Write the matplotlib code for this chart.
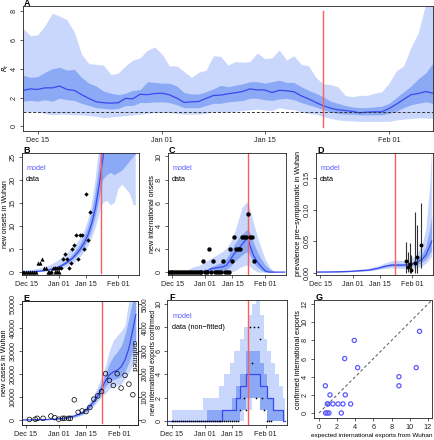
import numpy as np
import matplotlib
matplotlib.use("Agg")
import matplotlib.pyplot as plt

plt.rcParams['font.family'] = ['Liberation Sans', 'DejaVu Sans']

# days are counted from Dec 15
date_ticks = [0, 17, 31, 48]
date_labels = ['Dec 15', 'Jan 01', 'Jan 15', 'Feb 01']
lockdown_day = 39

# ---- panel A: R_t
A_days = np.arange(-2, 55)
A_med = [2.49, 2.6, 2.56, 2.67, 2.67, 2.8, 2.56, 2.5, 2.2, 1.94, 1.7, 1.64, 1.61, 1.64, 1.94, 1.91, 2.23, 2.2, 2.28,
         2.3, 2.19, 1.96, 1.66, 1.7, 1.73, 1.94, 2.14, 2.17, 2.26, 2.33, 2.42, 2.6, 2.53, 2.53, 2.35, 2.5, 2.47, 2.4,
         2.12, 1.91, 1.66, 1.43, 1.27, 1.15, 1.1, 1.04, 0.94, 0.99, 1.01, 1.01, 1.24, 1.54, 1.87, 2.2, 2.28, 2.42, 2.3]
A_dhi = [3.55, 3.4, 3.45, 3.75, 4.0, 4.1, 3.9, 3.95, 3.4, 3.0, 2.8, 2.45, 2.3, 2.2, 2.3, 2.5, 2.55, 3.1, 3.05, 3.0,
         3.0, 2.8, 2.35, 2.25, 2.25, 2.4, 2.6, 2.85, 2.75, 2.85, 2.95, 3.1, 3.1, 3.0, 3.1, 3.2, 3.05, 3.05, 2.75, 2.5,
         2.3, 2.05, 1.75, 1.6, 1.45, 1.35, 1.3, 1.3, 1.35, 1.4, 1.6, 2.0, 2.4, 2.8, 3.3, 3.7, 4.4]
A_dlo = [1.75, 1.8, 1.75, 1.85, 1.75, 1.95, 1.85, 1.8, 1.6, 1.45, 1.3, 1.25, 1.2, 1.25, 1.45, 1.45, 1.65, 1.65, 1.7,
         1.7, 1.65, 1.5, 1.3, 1.3, 1.3, 1.45, 1.6, 1.6, 1.7, 1.75, 1.8, 1.95, 1.95, 1.85, 1.8, 1.9, 1.95, 1.85, 1.65,
         1.5, 1.35, 1.15, 1.0, 0.9, 0.85, 0.85, 0.8, 0.8, 0.8, 0.8, 0.9, 1.05, 1.3, 1.5, 1.6, 1.7, 1.6]
A_lhi = [6.8, 6.3, 6.35, 7.0, 7.85, 7.65, 7.4, 6.55, 5.0, 4.35, 4.3, 4.25, 3.6, 3.7, 4.2, 4.6, 4.75, 5.3, 5.5, 5.0,
         4.2, 4.2, 3.8, 3.4, 3.75, 3.9, 4.9, 4.85, 4.25, 4.5, 4.45, 4.5, 5.1, 4.7, 4.75, 5.3, 4.6, 4.9, 4.3, 4.2,
         3.4, 2.95, 2.9, 2.75, 2.15, 2.05, 2.15, 2.15, 2.3, 2.4, 3.0, 3.85, 4.2, 5.5, 6.5, 8.5, 9.0]
A_llo = [1.0, 1.05, 1.0, 0.9, 0.8, 0.85, 0.85, 0.8, 0.8, 0.75, 0.7, 0.6, 0.65, 0.7, 0.75, 0.8, 0.85, 0.9, 0.95,
         0.95, 0.95, 0.9, 0.85, 0.85, 0.85, 0.9, 1.0, 1.0, 1.0, 1.05, 1.1, 1.15, 1.2, 1.15, 1.1, 1.3, 1.2, 1.15, 1.0,
         0.9, 0.85, 0.7, 0.55, 0.45, 0.4, 0.38, 0.35, 0.35, 0.35, 0.35, 0.35, 0.45, 0.5, 0.55, 0.6, 0.58, 0.55]

# ---- panel B: onsets in Wuhan
B_md = [-2, 0, 2, 4, 6, 8, 10, 12, 14, 16, 18, 20, 22, 24, 26, 28, 30, 32, 34, 36, 38, 39, 40, 42, 44, 46, 48, 50,
        52, 54, 56, 57]
B_med = [0.05, 0.08, 0.12, 0.17, 0.24, 0.33, 0.45, 0.6, 0.8, 1.05, 1.4, 1.85, 2.4, 3.1, 4.0, 5.0, 6.3, 8.0, 10.5,
         14, 19, 22, 25, 35, 45, 55, 65, 75, 85, 95, 105, 110]
B_dlo = [0.03, 0.05, 0.08, 0.12, 0.18, 0.25, 0.35, 0.48, 0.65, 0.85, 1.15, 1.5, 2.0, 2.6, 3.3, 4.2, 5.3, 6.7, 8.8,
         11.8, 15.5, 18, 20, 21, 21.5, 21, 21.5, 22, 23, 24, 25, 25.5]
B_dhi = [0.08, 0.12, 0.17, 0.24, 0.32, 0.43, 0.58, 0.75, 1.0, 1.3, 1.7, 2.25, 2.9, 3.7, 4.8, 6.0, 7.5, 9.5, 12.5,
         17, 23, 27, 30, 40, 50, 60, 70, 80, 90, 100, 110, 120]
B_llo = [0, 0, 0, 0.02, 0.05, 0.1, 0.15, 0.25, 0.35, 0.5, 0.75, 1.0, 1.4, 1.8, 2.4, 3.2, 4.2, 5.5, 7.2, 9.5, 12.5,
         14, 15, 15.5, 14.5, 15, 18, 19, 18, 17, 14.5, 14.5]
B_lhi = [0.3, 0.4, 0.5, 0.6, 0.75, 0.95, 1.2, 1.5, 1.9, 2.4, 3.0, 3.7, 4.5, 5.4, 6.2, 7.2, 8.8, 11, 14.5, 20, 27,
         31, 35, 45, 55, 65, 75, 85, 95, 105, 115, 125]
B_tri_days = [-2, -1, 0, 1, 2, 3, 4, 5, 6, 7, 8, 9, 10, 11, 12, 13, 14, 15, 16, 17]
B_tri_vals = [0, 0, 0, 0, 0, 0, 0, 0, 2, 2, 3, 1, 1, 0, 0, 0, 1, 0, 1, 0]
B_dot_days = [13, 15, 16, 17, 18, 19, 20, 21, 22, 23, 24, 25, 26, 27, 28, 29, 30, 31, 32, 33]
B_dot_vals = [0, 1, 0, 1, 1, 3, 4, 3, 1, 2, 5, 6, 8, 3, 8, 8, 5, 17, 7, 13]

# ---- panel C: international onsets
C_md = [-2, 2, 6, 10, 14, 18, 20, 22, 24, 26, 28, 30, 32, 34, 36, 38, 39, 40, 42, 44, 46, 48, 50, 52, 54, 56, 58]
C_med = [0, 0, 0, 0, 0, 0.1, 0.3, 0.35, 0.4, 0.45, 0.6, 1.1, 1.6, 2.0, 2.4, 2.8, 3.0, 2.3, 1.4, 0.85, 0.45, 0.1,
         0, 0, 0, 0, 0]
C_dlo = [0, 0, 0, 0, 0, 0, 0, 0.05, 0.1, 0.15, 0.25, 0.5, 0.9, 1.2, 1.5, 1.7, 1.8, 1.5, 0.8, 0.4, 0.15, 0, 0, 0,
         0, 0, 0]
C_dhi = [0, 0, 0, 0.05, 0.15, 0.3, 0.45, 0.6, 0.75, 0.9, 1.2, 1.8, 2.4, 2.9, 3.3, 3.6, 3.7, 3.4, 2.5, 1.7, 1.1,
         0.6, 0.3, 0.1, 0, 0, 0]
C_llo = [0, 0, 0, 0, 0, 0, 0, 0, 0, 0, 0, 0, 0.1, 0.3, 0.5, 0.6, 0.6, 0.5, 0.2, 0, 0, 0, 0, 0, 0, 0, 0]
C_lhi = [0, 0, 0, 0.4, 0.6, 1.0, 1.2, 1.4, 1.6, 1.8, 2.1, 2.6, 3.4, 4.5, 5.6, 6.0, 6.1, 5.5, 4.2, 3.0, 2.0, 1.1,
         0.5, 0.1, 0, 0, 0]
C_days = list(range(-2, 43))
C_vals = [0, 0, 0, 0, 0, 0, 0, 0, 0, 0, 0, 0, 0, 0, 0, 0, 0, 0, 1, 0, 0, 2, 0, 1, 0, 0, 0, 0, 1, 0, 0, 0, 2, 1, 3,
          2, 2, 2, 3, 3, 3, 5, 3, 3, 1]

# ---- panel D: prevalence pre-symptomatic
D_md = [-2, 5, 10, 15, 20, 25, 30, 34, 37, 40, 43, 46, 49, 51, 53, 55, 57, 58]
D_med = [0.001, 0.0012, 0.0015, 0.002, 0.003, 0.004, 0.007, 0.0105, 0.012, 0.012, 0.012, 0.0125, 0.015, 0.018,
         0.021, 0.028, 0.042, 0.05]
D_llo = [0.0005, 0.0007, 0.001, 0.0013, 0.002, 0.003, 0.005, 0.007, 0.0075, 0.007, 0.0065, 0.0065, 0.0075, 0.009,
         0.011, 0.015, 0.022, 0.026]
D_lhi = [0.0015, 0.002, 0.0025, 0.003, 0.005, 0.007, 0.011, 0.016, 0.019, 0.02, 0.019, 0.02, 0.026, 0.034, 0.045,
         0.07, 0.14, 0.2]
D_dlo = [0.0008, 0.001, 0.0012, 0.0017, 0.0025, 0.0035, 0.006, 0.009, 0.0105, 0.0105, 0.0105, 0.011, 0.012, 0.014,
         0.017, 0.021, 0.03, 0.035]
D_dhi = [0.0012, 0.0015, 0.002, 0.0025, 0.004, 0.005, 0.0085, 0.012, 0.0145, 0.015, 0.0145, 0.015, 0.019, 0.024,
         0.03, 0.042, 0.07, 0.09]
D_days = [44.5, 45.5, 46.5, 47, 49.5, 50.5, 52.5]
D_vals = [0.0186, 0.0085, 0.013, 0.005, 0.016, 0.025, 0.0435]
D_lo = [0, 0.001, 0, 0, 0, 0, 0.007]
D_hi = [0.048, 0.033, 0.047, 0.028, 0.096, 0.075, 0.11]

# ---- panel E: new cases in Wuhan
E_md = [-2, 5, 10, 15, 20, 25, 29, 32, 35, 37, 39, 41, 43, 45, 47, 49, 51, 53, 55, 56.5]
E_med = [0, 50, 150, 350, 750, 1700, 3000, 5000, 8000, 10500, 13500, 17000, 19500, 20800, 21500, 23000, 26000,
         31000, 39000, 45600]
E_llo = [0, 0, 50, 150, 400, 1000, 2000, 3600, 6000, 8000, 10000, 11500, 13500, 14500, 15000, 15500, 18000,
         20500, 24000, 29000]
E_lhi = [100, 200, 400, 700, 1300, 2500, 4200, 6800, 11000, 14500, 18500, 23500, 30000, 34500, 36500, 38500,
         41000, 52000, 60000, 70000]
E_dlo = [0, 20, 100, 250, 550, 1250, 2500, 4300, 7000, 9500, 12000, 14500, 16500, 17500, 18000, 19000, 21000,
         25000, 30000, 35000]
E_dhi = [50, 80, 200, 450, 950, 1900, 3500, 5800, 9500, 12500, 16000, 20000, 24500, 27500, 29500, 32000, 37000,
         44000, 52000, 60000]
E_days = [2, 5, 6, 9, 13, 15, 17, 19, 20, 22, 23, 25, 27, 29, 31, 33, 35, 37, 39, 41, 43, 45, 47, 49, 51, 53, 55]
E_vals = [200, 300, 700, 700, 1700, 1000, 300, 700, 700, 700, 700, 8700, 3300, 3900, 3600, 5400, 9000, 10400,
          12300, 20000, 17100, 14900, 20000, 13800, 19300, 15500, 10900]

# ---- panel F: international exports confirmed (step quantiles)
F_md = [-2, 26, 33, 35, 38, 45, 49, 52, 57, 58]
F_med = [0, 1, 2, 3, 4, 3, 2, 1, 0, 0]
F_dd = [-2, 18, 28, 31, 33, 35, 38, 42, 45, 47, 49, 52, 57, 58]
F_dlo = [0, 0, 0, 0, 0, 1, 2, 2, 1, 1, 0, 0, 0, 0]
F_dhi = [0, 1, 1, 2, 3, 4, 6, 6, 5, 4, 2, 1, 0, 0]
F_ld = [0, 16, 20, 24, 27, 30, 32, 35, 37, 39, 41, 43, 45, 47, 49, 51, 53, 55, 57, 58]
F_lhi = [1, 2, 2, 3, 4, 5, 6, 7, 8, 9, 10, 11, 9, 7, 6, 5, 4, 3, 2, 0]
F_llo = [0, 0, 0, 0, 0, 0, 0, 0, 1, 1, 2, 2, 1, 1, 0, 0, 0, 0, 0, 0]
F_days = list(range(0, 35)) + [35, 37, 38, 40, 41, 42, 43, 44, 45, 46, 47, 49, 50, 51]
F_vals = [0] * 35 + [1, 2, 1, 8, 5, 8, 2, 8, 7, 2, 1, 0, 0, 0]

# ---- panel G: expected vs confirmed exports
G_exp = [0.7, 0.92, 1.0, 0.73, 0.9, 1.1, 1.21, 1.54, 2.1, 2.46, 2.64, 2.83, 2.9, 3.49, 3.89, 4.26, 8.81, 8.81,
         10.72, 11.08]
G_conf = [3, 1, 1, 0, 0, 0, 2, 1, 1, 0, 1, 6, 2, 1, 8, 5, 3, 4, 5, 9]

LIGHT = '#c8d7fb'
DARK = '#8ca9f6'
LINE = '#3a48ee'
RED = '#ff5c5c'
MODEL = '#5a5aff'
FS = 5.2

W, H = 434, 440
fig = plt.figure(figsize=(W / 100, H / 100), dpi=100)


def rect(x0, y0, x1, y1):
    return [x0 / W, 1 - y1 / H, (x1 - x0) / W, (y1 - y0) / H]


def style(ax, yticks, ylabels=None, ypad=1.5):
    for s in ax.spines.values():
        s.set_linewidth(0.6)
        s.set_color('#222222')
    ax.tick_params(direction='out', length=2.5, width=0.5, labelsize=FS, pad=1.5, colors='#222222')
    ax.tick_params(axis='y', pad=ypad)
    ax.set_yticks(yticks)
    if ylabels is not None:
        ax.set_yticklabels(ylabels)
    plt.setp(ax.get_yticklabels(), rotation=90, va='center')


def date_axis(ax, xlim):
    ax.set_xlim(*xlim)
    ax.set_xticks(date_ticks)
    ax.set_xticklabels(date_labels)


def label(x, y, s):
    fig.text(x / W, 1 - y / H, s, fontsize=6.5, fontweight='bold', va='baseline', ha='left')


def ylab(x, y, s, rot=90, fs=FS):
    fig.text(x / W, 1 - y / H, s, fontsize=fs, rotation=rot, va='center', ha='center')


def legend(ax, x, y, second):
    ax.text(x, y, 'model', color=MODEL, fontsize=FS, transform=ax.transAxes)
    ax.text(x, y - 0.09, second, color='black', fontsize=FS, transform=ax.transAxes)


# A
ax = fig.add_axes(rect(23, 6, 433, 131))
ax.fill_between(A_days, A_llo, A_lhi, color=LIGHT, lw=0)
ax.fill_between(A_days, A_dlo, A_dhi, color=DARK, lw=0)
ax.plot(A_days, A_med, color=LINE, lw=0.9)
ax.axhline(1, color='#333333', ls=(0, (3, 2)), lw=0.7)
ax.axvline(lockdown_day, color=RED, lw=1.0, ymin=0.035, ymax=0.962)
date_axis(ax, (-2, 54))
ax.set_ylim(-0.32, 8.35)
style(ax, [0, 2, 4, 6, 8])
label(24, 6, 'A')
ylab(6, 68, '$R_t$', fs=4.8)

xl = (-2.3, 58.7)

# B
ax = fig.add_axes(rect(22, 153, 139, 275))
ax.fill_between(B_md, B_llo, B_lhi, color=LIGHT, lw=0)
ax.fill_between(B_md, B_dlo, B_dhi, color=DARK, lw=0)
ax.plot(B_md, B_med, color=LINE, lw=0.9)
ax.axvline(lockdown_day, color=RED, lw=1.0, ymin=0.02, ymax=1)
ax.scatter(B_tri_days, B_tri_vals, marker='^', s=9, color='black', lw=0, zorder=5)
ax.scatter(B_dot_days, B_dot_vals, marker='D', s=5, color='black', lw=0, zorder=5)
date_axis(ax, xl)
ax.set_ylim(-0.55, 25.8)
style(ax, [0, 5, 10, 15, 20, 25])
legend(ax, 0.035, 0.86, 'data')
label(23, 153, 'B')
ylab(5.5, 214, 'new onsets in Wuhan', fs=5)

# C
ax = fig.add_axes(rect(168, 153, 286, 275))
ax.fill_between(C_md, C_llo, C_lhi, color=LIGHT, lw=0)
ax.fill_between(C_md, C_dlo, C_dhi, color=DARK, lw=0)
ax.plot(C_md, C_med, color=LINE, lw=0.9)
ax.axvline(lockdown_day, color=RED, lw=1.0)
ax.scatter(C_days, C_vals, marker='o', s=10, color='black', lw=0, zorder=5)
date_axis(ax, xl)
ax.set_ylim(-0.25, 10.3)
style(ax, [0, 2, 4, 6, 8, 10])
legend(ax, 0.035, 0.86, 'data')
label(169, 153, 'C')
ylab(152, 214, 'new international onsets')

# D
ax = fig.add_axes(rect(316, 153, 433, 275))
ax.fill_between(D_md, D_llo, D_lhi, color=LIGHT, lw=0)
ax.fill_between(D_md, D_dlo, D_dhi, color=DARK, lw=0)
ax.plot(D_md, D_med, color=LINE, lw=0.9)
ax.axvline(lockdown_day, color=RED, lw=1.0)
ax.vlines(D_days, D_lo, D_hi, color='#333333', lw=0.8, zorder=4)
ax.scatter(D_days, D_vals, marker='o', s=8, color='black', lw=0, zorder=5)
date_axis(ax, xl)
ax.set_ylim(-0.0037, 0.19)
style(ax, [0, 0.05, 0.10, 0.15], ['0.00', '0.05', '0.10', '0.15'])
legend(ax, 0.035, 0.86, 'data')
label(317, 153, 'D')
ylab(299, 214, 'prevalence pre\u2212symptomatic in Wuhan')

# E
ax = fig.add_axes(rect(22, 301, 137.5, 425))
ax.fill_between(E_md, E_llo, E_lhi, color=LIGHT, lw=0)
ax.fill_between(E_md, E_dlo, E_dhi, color=DARK, lw=0)
ax.plot(E_md, E_med, color=LINE, lw=0.9)
ax.axvline(lockdown_day, color=RED, lw=1.0, ymin=0.02, ymax=1)
ax.scatter(E_days, E_vals, marker='o', s=11, facecolors='none', edgecolors='black', lw=0.5, zorder=5)
date_axis(ax, (-1.8, 57.4))
ax.set_ylim(-2200, 51500)
style(ax, [0, 10000, 20000, 30000, 40000, 50000])
ax2 = ax.twinx()
ax2.set_ylim(-220, 5150)
style(ax2, [0, 1000, 2000, 3000, 4000, 5000], ypad=0.8)
ax2.tick_params(axis='y', length=2, labelsize=4.8)
ax.text(0.965, 0.56, 'confirmed', rotation=270, fontsize=FS, transform=ax.transAxes, va='center', ha='center')
label(23, 301, 'E')
ylab(5, 363, 'new cases in Wuhan')

# F
ax = fig.add_axes(rect(167, 300, 286.5, 425))
ax.fill_between(F_ld, F_llo, F_lhi, color=LIGHT, lw=0, step='post')
ax.fill_between(F_dd, F_dlo, F_dhi, color=DARK, lw=0, step='post')
ax.step(F_md, F_med, where='post', color=LINE, lw=0.9)
ax.axvline(lockdown_day, color=RED, lw=1.0)
ax.scatter(F_days, F_vals, marker='o', s=1.5, color='black', lw=0, zorder=5)
date_axis(ax, xl)
ax.set_ylim(-0.3, 10.3)
style(ax, [0, 2, 4, 6, 8, 10], ypad=1)
ax.tick_params(axis='y', length=2)
legend(ax, 0.045, 0.86, 'data (non\u2212fitted)')
label(169, 300, 'F')
ylab(153.3, 362, 'new international exports confirmed', fs=4.8)

# G
ax = fig.add_axes(rect(314, 300, 431.5, 418))
ax.plot([0, 12.5], [0, 12.5], color='#555555', ls=(0, (3, 2.5)), lw=0.7)
ax.scatter(G_exp, G_conf, marker='o', s=9, facecolors='none', edgecolors=MODEL, lw=0.9, zorder=5)
ax.set_xlim(-0.55, 12.4)
ax.set_ylim(-0.55, 12.45)
ax.set_xticks([0, 2, 4, 6, 8, 10, 12])
style(ax, [0, 2, 4, 6, 8, 10, 12])
label(316, 300, 'G')
ylab(298, 360, 'confirmed international exports')
ylab(372, 435, 'expected international exports from Wuhan', rot=0, fs=4.6)

fig.savefig('out.png', dpi=100)
